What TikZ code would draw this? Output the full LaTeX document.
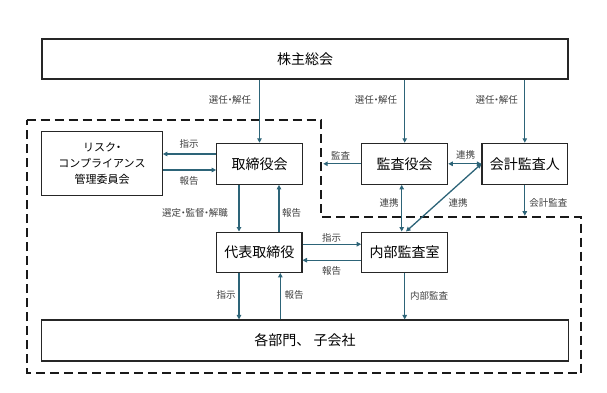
\documentclass[tikz,border=0pt]{standalone}
\usepackage{fontspec}
\setmainfont{Noto Sans CJK JP}
\usetikzlibrary{arrows.meta,calc}
\definecolor{arrc}{HTML}{2D6478}
\definecolor{lblc}{HTML}{404040}
\newcommand\nkgr{\makebox[0.45em][c]{・}}
\tikzset{
  box/.style={draw=black!85, line width=1.1pt, fill=white, inner sep=0pt, font=\fontsize{14}{16}\selectfont},
  arr/.style={draw=arrc, line width=1.3pt, -{Triangle[length=4.5pt,width=4.5pt]}},
  darr/.style={draw=arrc, line width=1.3pt, {Triangle[length=4.5pt,width=4.5pt]}-{Triangle[length=4.5pt,width=4.5pt]}},
  lbl/.style={font=\fontsize{9.5}{11}\selectfont, text=lblc, inner sep=0pt},
  bound/.style={draw=black!90, line width=1.8pt, dash pattern=on 9pt off 5pt}
}
\begin{document}
\begin{tikzpicture}[x=1pt,y=-1pt]
\useasboundingbox (0,0) rectangle (607,392);
% dashed boundary
\coordinate (c1) at (26.7,120);
\coordinate (c2) at (320.7,120);
\coordinate (c3) at (320.7,216.7);
\coordinate (c4) at (581,216.7);
\coordinate (c5) at (581,373.3);
\coordinate (c6) at (26.7,373.3);
\draw[bound] (c1) -- (c2) -- (c3) -- (c4) -- (c5) -- (c6) -- cycle;
% boxes
\node[box, minimum width=526pt, minimum height=40pt] (soukai) at (305,59) {株主総会};
\node[box, minimum width=85.6pt, minimum height=41pt] (tori) at (259.5,163.8) {取締役会};
\node[box, minimum width=120.6pt, minimum height=64pt, align=center, font=\fontsize{11}{16.2}\selectfont] (risk) at (102,163.7) {リスク\nkgr\\コンプライアンス\\管理委員会};
\node[box, minimum width=86pt, minimum height=41pt] (kansa) at (404.7,163.8) {監査役会};
\node[box, minimum width=85.7pt, minimum height=41pt] (kaikei) at (524.8,163.8) {会計監査人};
\node[box, minimum width=85.3pt, minimum height=40.3pt] (daihyo) at (259.3,252.2) {代表取締役};
\node[box, minimum width=86pt, minimum height=40.3pt] (naibu) at (404.7,252.2) {内部監査室};
\node[box, minimum width=526.6pt, minimum height=41pt] (kakubu) at (305,340.5) {各部門、\ 子会社};
% arrows from shareholders
\draw[arr] (soukai.south -| tori.north) -- (tori.north);
\draw[arr] (soukai.south -| kansa.north) -- (kansa.north);
\draw[arr] (soukai.south -| kaikei.north) -- (kaikei.north);
% board <-> risk committee
\draw[arr] ([yshift=9.8pt]tori.west) -- ([yshift=9.8pt]tori.west -| risk.east);
\draw[arr] ([yshift=-6.2pt]risk.east |- tori.west) -- ([yshift=-6.2pt]tori.west);
% board <-> representative director
\draw[arr] ([xshift=-20.5pt]tori.south) -- ([xshift=-20.5pt]tori.south |- daihyo.north);
\draw[arr] ([xshift=19.5pt]tori.south |- daihyo.north) -- ([xshift=19.5pt]tori.south);
% representative director <-> internal audit
\draw[arr] ([yshift=8pt]daihyo.east) -- ([yshift=8pt]naibu.west);
\draw[arr] ([yshift=-8pt]naibu.west) -- ([yshift=-8pt]daihyo.east);
% representative director <-> departments
\draw[arr] ([xshift=-20.3pt]daihyo.south) -- ([xshift=-20.3pt]daihyo.south |- kakubu.north);
\draw[arr] ([xshift=21pt]daihyo.south |- kakubu.north) -- ([xshift=21pt]daihyo.south);
% internal audit -> departments
\draw[arr] (naibu.south) -- (naibu.south |- kakubu.north);
% audit board
\coordinate (kansaend) at ($(c2 |- kansa.west)+(2.5,0)$);
\draw[arr] (kansa.west) -- (kansaend);
\draw[darr] (kansa.east) -- (kaikei.west);
\draw[darr] ([xshift=-3pt]kansa.south) -- ([xshift=-3pt]naibu.north);
\draw[darr] (kaikei.west) -- ([xshift=1.3pt]naibu.north);
\coordinate (kaikeiend) at ($(kaikei.south |- c4)+(0,-1)$);
\draw[arr] (kaikei.south) -- (kaikeiend);
% labels
\node[lbl] (l1) at (230,100) {選任\nkgr 解任};
\node[lbl] (l2) at (376,100) {選任\nkgr 解任};
\node[lbl] (l3) at (496.7,100) {選任\nkgr 解任};
\node[lbl] (l4) at (189,144) {指示};
\node[lbl] (l5) at (189,180.7) {報告};
\node[lbl] (l6) at (195,213.3) {選定\nkgr 監督\nkgr 解職};
\node[lbl] (l7) at (291.7,213.3) {報告};
\node[lbl] (l8) at (340.7,155.7) {監査};
\node[lbl] (l9) at (465.7,155) {連携};
\node[lbl] (l10) at (389,202.7) {連携};
\node[lbl] (l11) at (458,202.7) {連携};
\node[lbl] (l12) at (548.3,202.7) {会計監査};
\node[lbl] (l13) at (331.7,237.7) {指示};
\node[lbl] (l14) at (331.7,270.7) {報告};
\node[lbl] (l15) at (226,295) {指示};
\node[lbl] (l16) at (294,295) {報告};
\node[lbl] (l17) at (429,295.7) {内部監査};
\end{tikzpicture}
\end{document}
